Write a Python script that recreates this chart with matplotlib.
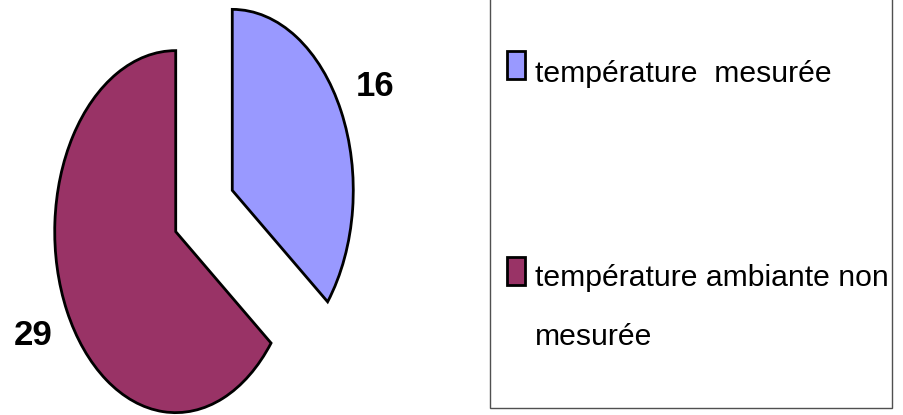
import matplotlib
matplotlib.use("Agg")
import matplotlib.pyplot as plt
from matplotlib import font_manager
from matplotlib.patches import Rectangle

# ---- data ----
categories = ["température  mesurée", "température ambiante non\nmesurée"]
values = [16, 29]
value_labels = ["16", "29"]
colors = ["#9999FF", "#993366"]

# ---- fonts ----
names = {f.name for f in font_manager.fontManager.ttflist}
if "Liberation Sans Narrow" in names:
    family = ["Liberation Sans Narrow", "DejaVu Sans"]
    legend_fs, label_fs = 26.5, 30
else:
    family = ["Liberation Sans", "DejaVu Sans"]
    legend_fs, label_fs = 21.7, 25
plt.rcParams["font.family"] = family

W, H = 904, 415
fig = plt.figure(figsize=(W / 100, H / 100), dpi=100)
ax = fig.add_axes([0, 0, 1, 1])

wedges, texts = ax.pie(
    values,
    labels=value_labels,
    colors=colors,
    startangle=90,
    counterclock=False,
    explode=[0.26, 0.26],
    labeldistance=1.31,
    wedgeprops=dict(edgecolor="black", linewidth=2.0),
    textprops=dict(fontsize=label_fs, fontweight="bold", color="black"),
)
for t in texts:
    t.set_horizontalalignment("center")
    t.set_verticalalignment("center")

# anisotropic (squeezed) pie as in the reference
rx, ry = 121.0, 181.0
cx, cy = 204.0, 211.0
ax.set_aspect("auto")
ax.set_xlim(-cx / rx, (W - cx) / rx)
ax.set_ylim((cy - H) / ry, cy / ry)
ax.axis("off")

# ---- legend (drawn in pixel coordinates) ----
lg = fig.add_axes([0, 0, 1, 1])
lg.set_xlim(0, W)
lg.set_ylim(H, 0)
lg.axis("off")
lg.patch.set_alpha(0)

lg.add_patch(Rectangle((490, -5), 402, 413, facecolor="white",
                       edgecolor="#505050", linewidth=1.0))
marker_tops = [51, 257]
last_baselines = [82, 345]
for col, lab, mt, bl in zip(colors, categories, marker_tops, last_baselines):
    lg.add_patch(Rectangle((507, mt), 18, 28, facecolor=col,
                           edgecolor="black", linewidth=2.0))
    lg.text(535, bl, lab, fontsize=legend_fs, va="baseline", ha="left",
            linespacing=2.4)

fig.savefig("out.png", dpi=100)
